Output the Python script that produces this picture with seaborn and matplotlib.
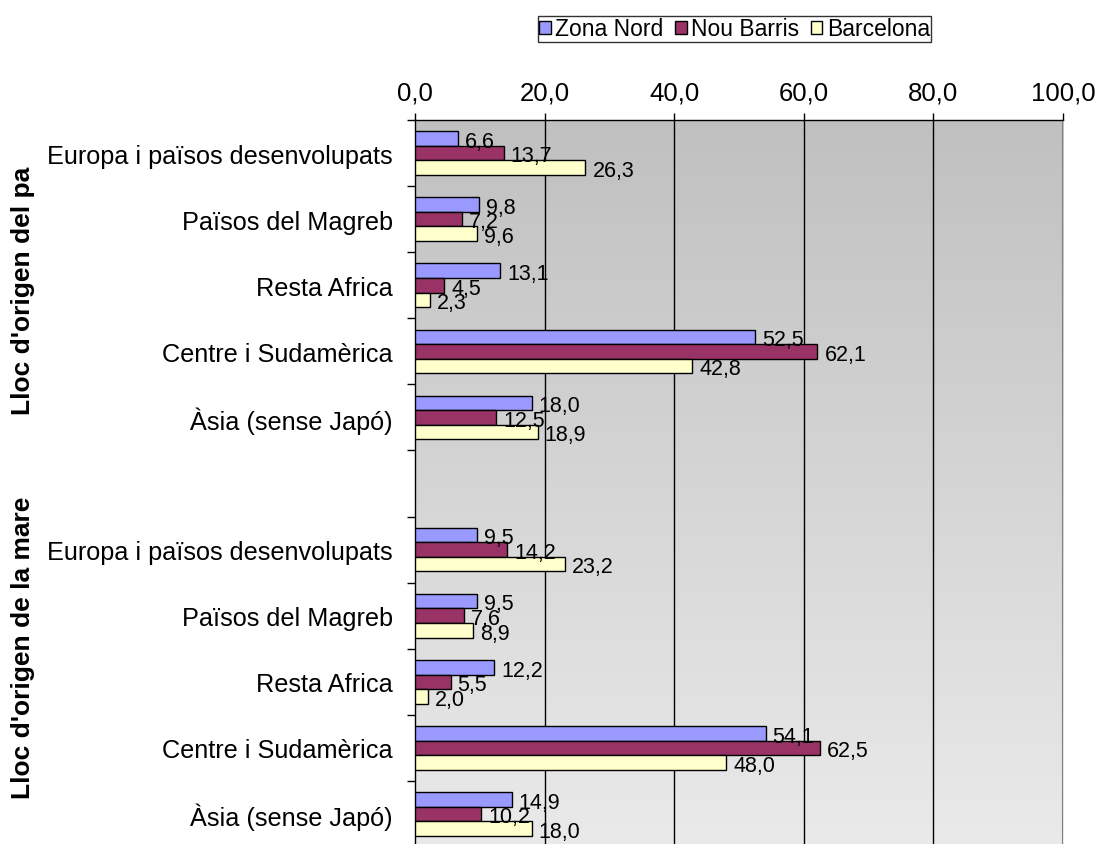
import numpy as np
import pandas as pd
import matplotlib
matplotlib.use("Agg")
import matplotlib.pyplot as plt
from matplotlib.patches import Patch
from matplotlib.colors import LinearSegmentedColormap
import seaborn as sns

# Origin regions (same list for father and mother)
regions = ["Europa i països desenvolupats", "Països del Magreb", "Resta Africa",
           "Centre i Sudamèrica", "Àsia (sense Japó)"]
series = ["Zona Nord", "Nou Barris", "Barcelona"]

# Percentages by origin of the father
pare_zona_nord = [6.6, 9.8, 13.1, 52.5, 18.0]
pare_nou_barris = [13.7, 7.2, 4.5, 62.1, 12.5]
pare_barcelona = [26.3, 9.6, 2.3, 42.8, 18.9]

# Percentages by origin of the mother
mare_zona_nord = [9.5, 9.5, 12.2, 54.1, 14.9]
mare_nou_barris = [14.2, 7.6, 5.5, 62.5, 10.2]
mare_barcelona = [23.2, 8.9, 2.0, 48.0, 18.0]

group_labels = ["Lloc d'origen del pa", "Lloc d'origen de la mare"]
x_ticks = [0, 20, 40, 60, 80, 100]

colors = {"Zona Nord": "#9999FF", "Nou Barris": "#993366", "Barcelona": "#FFFFCC"}

# Long table: one row per bar, slot keys keep the two groups apart
rows = []
for prefix, vals in (("pare", (pare_zona_nord, pare_nou_barris, pare_barcelona)),
                     ("mare", (mare_zona_nord, mare_nou_barris, mare_barcelona))):
    for s, v in zip(series, vals):
        for i, r in enumerate(regions):
            rows.append({"slot": f"{prefix}_{i}", "serie": s, "valor": v[i]})
df = pd.DataFrame(rows)
order = [f"pare_{i}" for i in range(5)] + ["buit"] + [f"mare_{i}" for i in range(5)]
tick_text = regions + [""] + regions

plt.rcParams["font.family"] = ["Liberation Sans", "DejaVu Sans"]
fig = plt.figure(figsize=(11.03, 8.45), dpi=100)
ax = fig.add_axes([0.3763, -0.0036, 0.5875, 0.8604])

sns.barplot(data=df, y="slot", x="valor", hue="serie", order=order,
            hue_order=series, palette=colors, orient="h", width=0.66,
            edgecolor="black", linewidth=1.0, saturation=1, errorbar=None,
            legend=False, ax=ax, zorder=3)

# Value labels at the end of each bar
fmt = lambda v: f"{v:.1f}".replace(".", ",")
for cont in ax.containers:
    texts = ax.bar_label(cont, fmt=fmt, padding=5, fontsize=15.5, zorder=4)
    for t in texts:
        x0, y0 = t.xyann
        t.xyann = (x0, y0 - 2)

# Vertical gradient background of the plot area
grad = np.linspace(0, 1, 256).reshape(-1, 1)
cmap = LinearSegmentedColormap.from_list("bg", ["#C0C0C0", "#EAEAEA"])
ax.imshow(grad, cmap=cmap, aspect="auto", extent=[0, 1, 0, 1],
          origin="upper", transform=ax.transAxes, zorder=0)

ax.set_xlim(0, 100)
ax.set_ylim(10.5, -0.5)

# Gridlines
for xv in x_ticks[1:-1]:
    ax.axvline(xv, color="black", lw=1.0, zorder=1)
ax.axvline(100, color="#808080", lw=1.5, zorder=1)

# X axis on top
ax.xaxis.tick_top()
ax.set_xticks(x_ticks)
ax.set_xticklabels([f"{v:.1f}".replace(".", ",") for v in x_ticks], fontsize=18.5)
ax.tick_params(axis="x", direction="out", length=5, width=1, pad=6, color="black")
ax.set_xlabel("")

# Y axis: labels at slot centres, tick marks at slot boundaries
ax.set_yticks(range(len(order)))
ax.set_yticklabels(tick_text, fontsize=18.2)
ax.tick_params(axis="y", which="major", length=0, pad=16)
ax.set_yticks(np.arange(-0.5, len(order), 1.0), minor=True)
ax.tick_params(axis="y", which="minor", direction="out", length=6, width=1, color="black")
ax.set_ylabel("")

for side in ("bottom", "right"):
    ax.spines[side].set_visible(False)
for side in ("top", "left"):
    ax.spines[side].set_color("black")
    ax.spines[side].set_linewidth(1.0)

# Rotated group labels
fig.text(0.021, 0.6556, group_labels[0], rotation=90, ha="center", va="center",
         fontsize=19, fontweight="bold")
fig.text(0.021, 0.2337, group_labels[1], rotation=90, ha="center", va="center",
         fontsize=19, fontweight="bold")

# Legend
handles = [Patch(facecolor=colors[s], edgecolor="black", linewidth=1.0, label=s)
           for s in series]
leg = fig.legend(handles=handles, loc="center", bbox_to_anchor=(0.666, 0.9645),
                 ncol=3, fontsize=16.5, frameon=True, fancybox=False,
                 handlelength=0.5, handleheight=0.5, handletextpad=0.2,
                 columnspacing=0.5, borderpad=0.05, borderaxespad=0)
leg.get_frame().set_edgecolor("black")
leg.get_frame().set_linewidth(1.0)

fig.savefig("out.png", dpi=100)
